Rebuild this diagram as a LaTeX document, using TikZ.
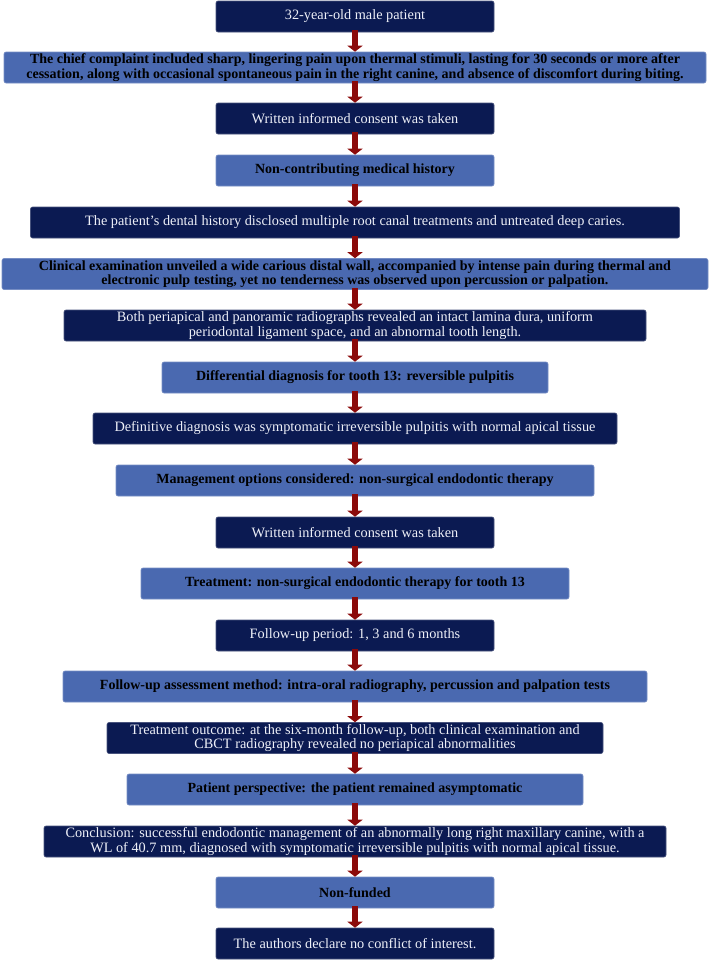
\documentclass[tikz,border=0pt]{standalone}
\usepackage{fontspec}
\setmainfont{Liberation Serif}
\usetikzlibrary{arrows.meta}
\definecolor{navyb}{HTML}{0B1A52}
\definecolor{blueb}{HTML}{4A69B0}
\definecolor{arrowred}{HTML}{8B0A0A}
\definecolor{lighttxt}{HTML}{EEF0F8}
\tikzset{
 boxbase/.style={rounded corners=2pt, minimum height=31pt, inner sep=0pt, align=center, line width=0.6pt},
 navybox/.style={boxbase, fill=navyb, draw=navyb!75!white, text=lighttxt, font=\fontsize{14.3}{14.5}\selectfont},
 bluebox/.style={boxbase, fill=blueb, draw=blueb!75!white, text=black, font=\fontsize{14}{14.5}\selectfont\bfseries},
 flow/.style={line width=6pt, draw=arrowred, -{Triangle[width=15pt,length=6pt]}, shorten <=-2pt},
}
\begin{document}
\begin{tikzpicture}[x=1pt,y=1pt]
\useasboundingbox (0,0) rectangle (710,-962);
\node[navybox, minimum width=278] (n1) at (355,-16.5) {32-year-old male patient};
\node[bluebox, minimum width=702] (n2) at (355,-67.5) {The chief complaint included sharp, lingering pain upon thermal stimuli, lasting for 30 seconds or more after\\cessation, along with occasional spontaneous pain in the right canine, and absence of discomfort during biting.};
\node[navybox, minimum width=278] (n3) at (355,-118.5) {Written informed consent was taken};
\node[bluebox, minimum width=278] (n4) at (355,-170.5) {Non-contributing medical history};
\node[navybox, minimum width=649] (n5) at (355,-222.5) {The patient's dental history disclosed multiple root canal treatments and untreated deep caries.};
\node[bluebox, minimum width=706] (n6) at (355,-274) {Clinical examination unveiled a wide carious distal wall, accompanied by intense pain during thermal and\\electronic pulp testing, yet no tenderness was observed upon percussion or palpation.};
\node[navybox, minimum width=582] (n7) at (355,-325.5) {Both periapical and panoramic radiographs revealed an intact lamina dura, uniform\\periodontal ligament space, and an abnormal tooth length.};
\node[bluebox, minimum width=386] (n8) at (355,-377.5) {Differential diagnosis for tooth 13: reversible pulpitis};
\node[navybox, minimum width=524] (n9) at (355,-428.5) {Definitive diagnosis was symptomatic irreversible pulpitis with normal apical tissue};
\node[bluebox, minimum width=478] (n10) at (355,-480.5) {Management options considered: non-surgical endodontic therapy};
\node[navybox, minimum width=278] (n11) at (355,-532.5) {Written informed consent was taken};
\node[bluebox, minimum width=428] (n12) at (355,-583.5) {Treatment: non-surgical endodontic therapy for tooth 13};
\node[navybox, minimum width=278] (n13) at (355,-635.5) {Follow-up period: 1, 3 and 6 months};
\node[bluebox, minimum width=584] (n14) at (355,-686.5) {Follow-up assessment method: intra-oral radiography, percussion and palpation tests};
\node[navybox, minimum width=496] (n15) at (355,-738) {Treatment outcome: at the six-month follow-up, both clinical examination and\\CBCT radiography revealed no periapical abnormalities};
\node[bluebox, minimum width=456] (n16) at (355,-789.5) {Patient perspective: the patient remained asymptomatic};
\node[navybox, minimum width=622] (n17) at (355,-841.5) {Conclusion: successful endodontic management of an abnormally long right maxillary canine, with a\\WL of 40.7 mm, diagnosed with symptomatic irreversible pulpitis with normal apical tissue.};
\node[bluebox, minimum width=278] (n18) at (355,-892.5) {Non-funded};
\node[navybox, minimum width=278] (n19) at (355,-943.5) {The authors declare no conflict of interest.};
\foreach \a/\b in {n1/n2,n2/n3,n3/n4,n4/n5,n5/n6,n6/n7,n7/n8,n8/n9,n9/n10,n10/n11,n11/n12,n12/n13,n13/n14,n14/n15,n15/n16,n16/n17,n17/n18,n18/n19}
  \draw[flow] (\a.south) -- (\b.north);
\end{tikzpicture}
\end{document}
